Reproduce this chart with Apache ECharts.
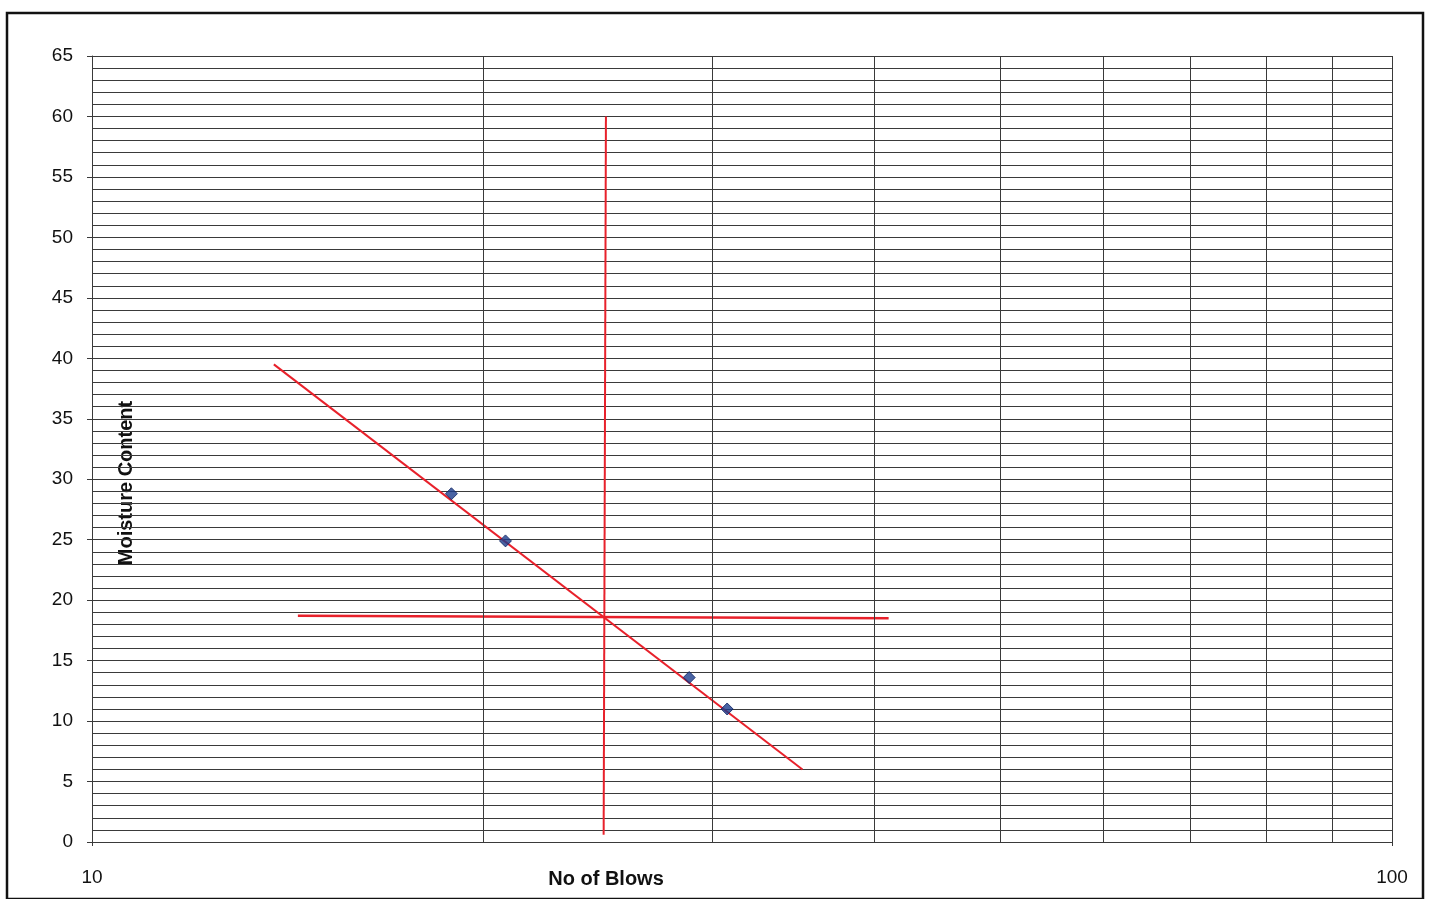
<!DOCTYPE html>
<html>
<head>
<meta charset="utf-8">
<script src="https://cdn.jsdelivr.net/npm/echarts@6/dist/echarts.min.js"></script>
<style>
  html, body { margin: 0; padding: 0; background: #fff; }
</style>
</head>
<body>
<div id="main" style="width:1430px;height:899px;"></div>
<script>
// measured points (No of Blows vs Moisture Content)
var blows = [18.9, 20.8, 28.8, 30.8];
var moisture = [28.8, 24.9, 13.6, 11.0];
// red best-fit line ends
var trendX = [13.8, 35.2];
var trendY = [39.5, 6.0];
// red guide at 25 blows
var guideVX = [24.85, 24.75];
var guideVY = [60, 0.6];
var guideHX = [14.4, 41];
var guideHY = [18.7, 18.5];
// extra vertical grid lines on log axis
var logGrid = [20, 30, 40, 50, 60, 70, 80, 90];
var yTicks = [0, 65, 5];

var myChart = echarts.init(document.getElementById('main'));

var pts = blows.map(function (b, i) { return [b, moisture[i]]; });
var trend = trendX.map(function (x, i) { return [x, trendY[i]]; });
var vline = guideVX.map(function (x, i) { return [x, guideVY[i]]; });
var hline = guideHX.map(function (x, i) { return [x, guideHY[i]]; });

var gridColor = '#3a3a3a';
var red = '#e8212b';
var font = 'Liberation Sans, Arial, sans-serif';

var option = {
  backgroundColor: '#fff',
  animation: false,
  textStyle: { fontFamily: font },
  grid: { left: 92, right: 38, top: 56, bottom: 57, outerBoundsMode: 'none', containLabel: false },
  graphic: [
    {
      type: 'rect',
      shape: { x: 7, y: 13, width: 1416, height: 886 },
      style: { fill: 'none', stroke: '#111', lineWidth: 2.5 },
      silent: true
    },
    {
      type: 'text',
      x: 126, y: 483,
      rotation: Math.PI / 2,
      style: {
        text: 'Moisture Content',
        fill: '#111',
        font: 'bold 20px ' + font,
        align: 'center',
        verticalAlign: 'middle'
      }
    },
    {
      type: 'text',
      x: 606, y: 879,
      style: {
        text: 'No of Blows',
        fill: '#111',
        font: 'bold 20px ' + font,
        align: 'center',
        verticalAlign: 'middle'
      }
    }
  ],
  xAxis: {
    type: 'log',
    logBase: 10,
    min: 10,
    max: 100,
    axisLine: { show: true, lineStyle: { color: gridColor } },
    axisTick: { show: true, length: 4, lineStyle: { color: gridColor } },
    axisLabel: { fontSize: 19, color: '#111', margin: 26 },
    splitLine: { show: true, lineStyle: { color: gridColor, width: 1 } }
  },
  yAxis: {
    type: 'value',
    min: yTicks[0],
    max: yTicks[1],
    interval: yTicks[2],
    axisLine: { show: true, lineStyle: { color: gridColor } },
    axisTick: { show: true, length: 5, lineStyle: { color: gridColor } },
    axisLabel: { fontSize: 19, color: '#111', margin: 19 },
    splitLine: { show: true, lineStyle: { color: gridColor, width: 1 } },
    minorTick: { show: false, splitNumber: 5 },
    minorSplitLine: { show: true, lineStyle: { color: gridColor, width: 1 } }
  },
  series: [
    {
      name: 'grid',
      type: 'line',
      data: [],
      silent: true,
      markLine: {
        silent: true,
        symbol: 'none',
        label: { show: false },
        lineStyle: { color: gridColor, type: 'solid', width: 1 },
        data: logGrid.map(function (v) { return { xAxis: v }; })
      }
    },
    {
      name: 'trend',
      type: 'line',
      data: trend,
      symbol: 'none',
      lineStyle: { color: red, width: 2 }
    },
    {
      name: 'v25',
      type: 'line',
      data: vline,
      symbol: 'none',
      lineStyle: { color: red, width: 2 }
    },
    {
      name: 'hLL',
      type: 'line',
      data: hline,
      symbol: 'none',
      lineStyle: { color: red, width: 2.5 }
    },
    {
      name: 'points',
      type: 'scatter',
      data: pts,
      symbol: 'diamond',
      symbolSize: 12,
      itemStyle: { color: '#1c3c8c', borderColor: '#0e2260', borderWidth: 1 },
      z: 5
    }
  ]
};
myChart.setOption(option);
</script>
</body>
</html>
